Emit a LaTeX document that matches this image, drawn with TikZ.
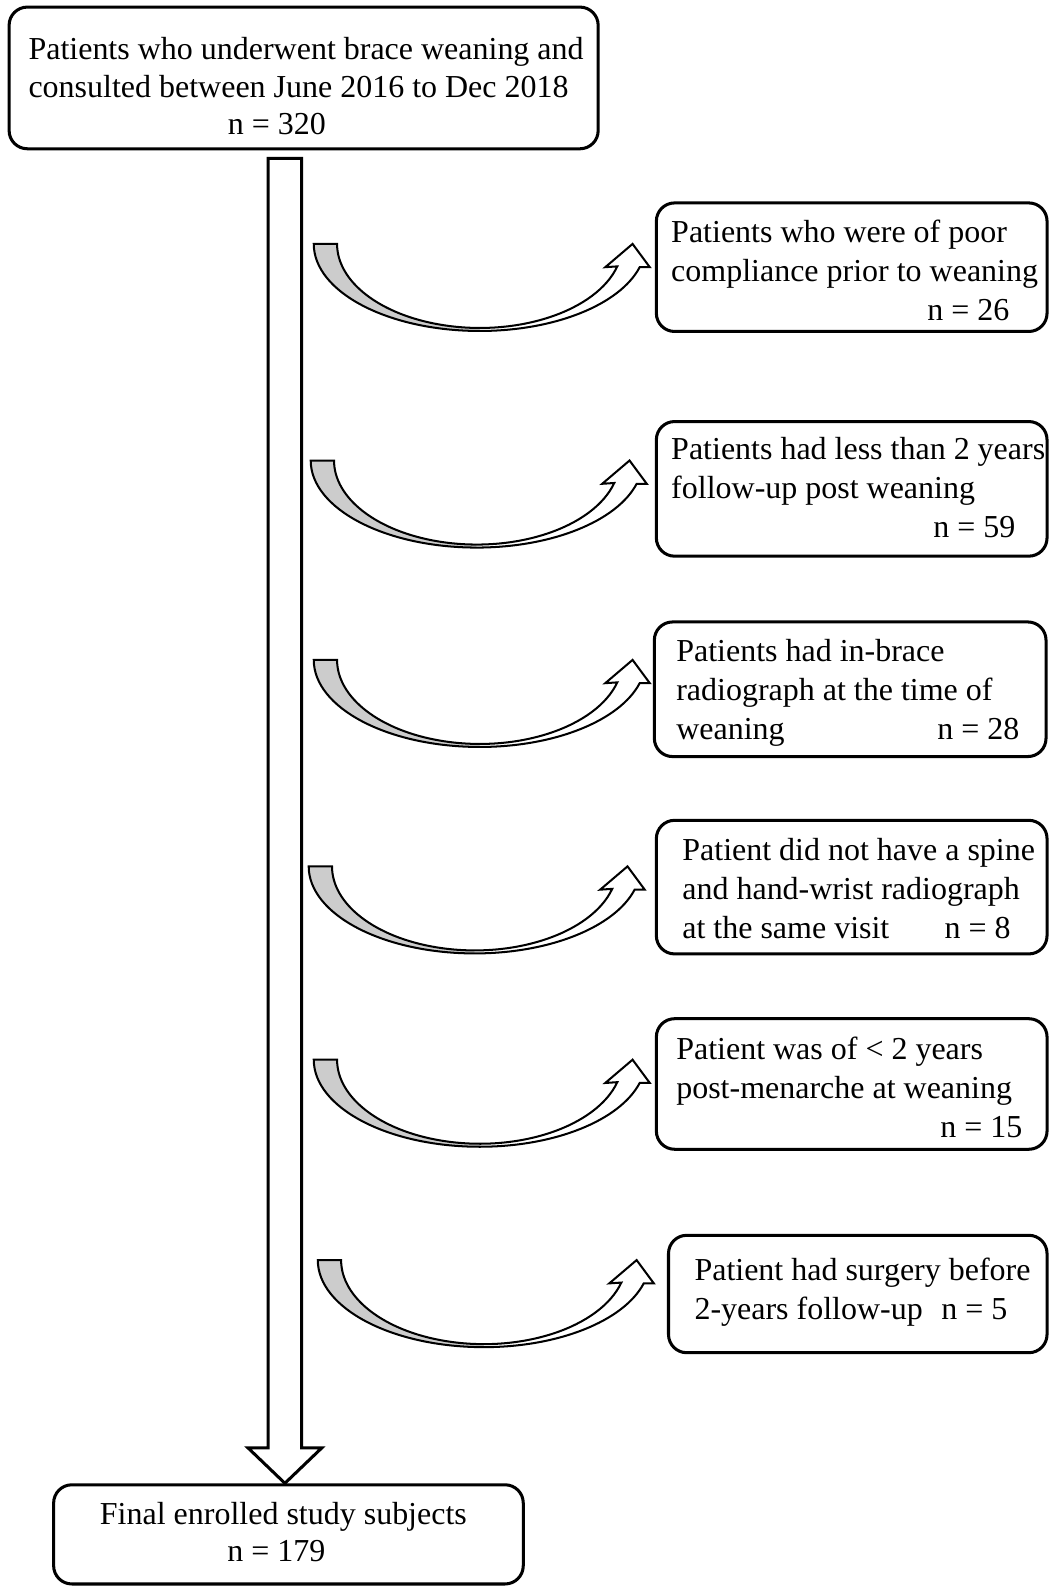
\documentclass[tikz,border=0pt]{standalone}
\usepackage{fontspec}
\setmainfont{Liberation Serif}
\usetikzlibrary{calc}
\definecolor{tailgray}{RGB}{204,204,204}
\tikzset{
  box/.style={draw=black, line width=3pt, rounded corners=18pt, fill=white, inner sep=0pt},
  txt/.style={font=\fontsize{31.6}{38.5}\selectfont, inner sep=0pt, anchor=base west},
  txtb/.style={font=\fontsize{31.6}{37}\selectfont, inner sep=0pt},
  blockarrow/.style={draw=black, line width=3pt, fill=white, line join=miter},
  curvarr/.pic={
    \fill[tailgray]
      (0,0) arc[start angle=180, end angle=270, x radius=164pt, y radius=86pt]
      -- (164,-83) arc[start angle=270, end angle=180, x radius=141pt, y radius=83pt] -- cycle;
    \fill[white]
      (164,-86) arc[start angle=270, end angle=344.5, x radius=164pt, y radius=86pt]
      -- (332,-23) -- (315,0) -- (288,-23) -- (299.9,-22.2)
      arc[start angle=344.5, end angle=270, x radius=141pt, y radius=83pt] -- cycle;
    \draw[black, line width=2pt, line join=miter]
      (0,0) arc[start angle=180, end angle=344.5, x radius=164pt, y radius=86pt]
      -- (332,-23) -- (315,0) -- (288,-23) -- (299.9,-22.2)
      arc[start angle=344.5, end angle=180, x radius=141pt, y radius=83pt] -- cycle;
  }
}
\begin{document}
\begin{tikzpicture}[x=1pt, y=1pt]
\useasboundingbox (0,0) rectangle (1036,-1568);
% top box
\node[box, minimum width=582pt, minimum height=140pt] (top) at (300,-77) {};
\node[txtb, anchor=base west] (ttop) at (28,-59) {\begin{tabular}[t]{@{}l@{}}Patients who underwent brace weaning and\\consulted between June 2016 to Dec 2018\\\hspace*{197pt}n = 320\end{tabular}};
% bottom box
\node[box, minimum width=464pt, minimum height=98pt] (final) at (285,-1516) {};
\node[txtb, anchor=base] (tfinal) at (280,-1506) {\begin{tabular}[t]{@{}c@{}}Final enrolled study subjects\\\hspace*{-14pt}n = 179\end{tabular}};
% vertical block arrow
\coordinate (vt) at ($(top.south -| 281.5,0)+(0,-8)$);
\coordinate (vb) at (final.north -| vt);
\draw[blockarrow] ($(vt)+(-16.5,0)$) -- ($(vt)+(16.5,0)$) -- ($(vb)+(16.5,35)$) -- ($(vb)+(36.5,35)$) -- (vb) -- ($(vb)+(-36.5,35)$) -- ($(vb)+(-16.5,35)$) -- cycle;
% right boxes
\node[box, minimum width=386pt, minimum height=127pt] (b1) at (841.5,-264) {};
\node[txt] (t1) at (663,-240) {\begin{tabular}[t]{@{}l@{}}Patients who were of poor\\compliance prior to weaning\\\hspace*{253pt}n = 26\end{tabular}};
\node[box, minimum width=386pt, minimum height=133pt] (b2) at (841.5,-483) {};
\node[txt] (t2) at (663,-454) {\begin{tabular}[t]{@{}l@{}}Patients had less than 2 years\\follow-up post weaning\\\hspace*{259pt}n = 59\end{tabular}};
\node[box, minimum width=387pt, minimum height=133pt] (b3) at (840,-681) {};
\node[txt] (t3) at (668,-654) {\begin{tabular}[t]{@{}l@{}}Patients had in-brace\\radiograph at the time of\\\makebox[258pt][l]{weaning}n = 28\end{tabular}};
\node[box, minimum width=386pt, minimum height=132pt] (b4) at (841.5,-876.5) {};
\node[txt] (t4) at (674,-850) {\begin{tabular}[t]{@{}l@{}}Patient did not have a spine\\and hand-wrist radiograph\\\makebox[259pt][l]{at the same visit}n = 8\end{tabular}};
\node[box, minimum width=386pt, minimum height=129pt] (b5) at (841.5,-1071) {};
\node[txt] (t5) at (668,-1047) {\begin{tabular}[t]{@{}l@{}}Patient was of < 2 years\\post-menarche at weaning\\\hspace*{261pt}n = 15\end{tabular}};
\node[box, minimum width=374pt, minimum height=116pt] (b6) at (847.5,-1278.5) {};
\node[txt] (t6) at (686,-1265) {\begin{tabular}[t]{@{}l@{}}Patient had surgery before\\\makebox[244pt][l]{2-years follow-up}n = 5\end{tabular}};
% curved arrows
\pic at (310,-241) {curvarr};
\pic at (307,-455) {curvarr};
\pic at (310,-652) {curvarr};
\pic at (305,-856) {curvarr};
\pic at (310,-1047) {curvarr};
\pic at (314,-1245) {curvarr};
\end{tikzpicture}
\end{document}
